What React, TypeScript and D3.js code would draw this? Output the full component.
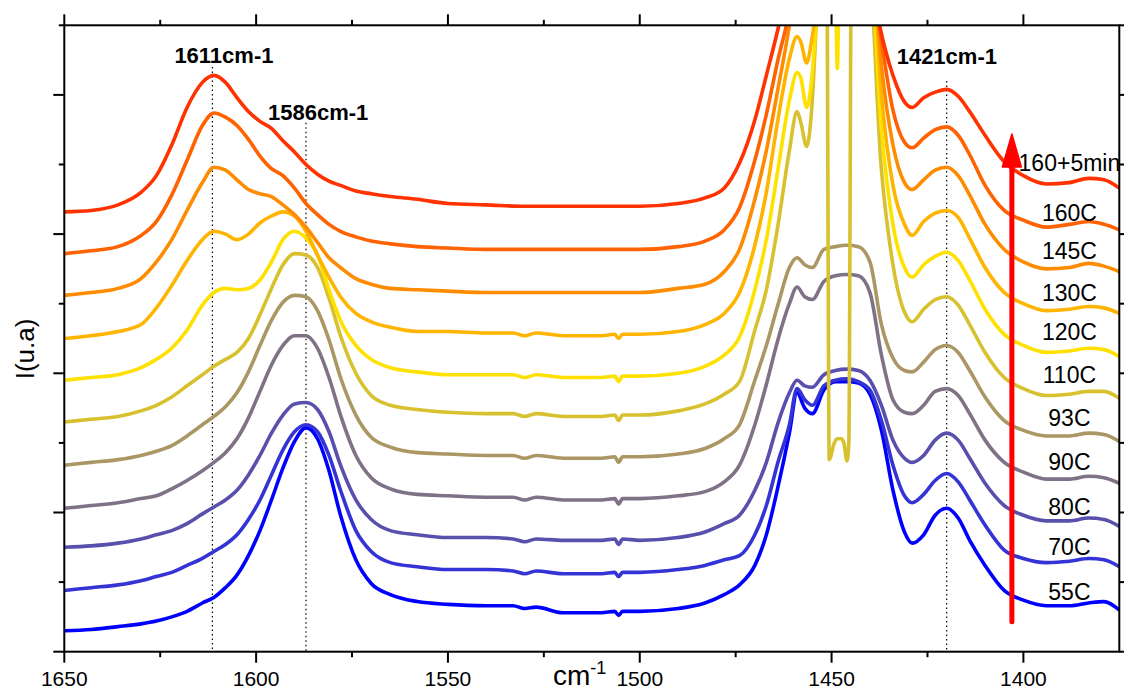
import React from 'react';
import * as d3 from 'd3';

type Pt = [number, number];

// ---- data (wavenumber cm-1, intensity u.a.) ----
const labels = ['55C', '70C', '80C', '90C', '93C', '110C', '120C', '130C', '145C', '160C', '160+5min'];
const colors = ['#0000ff', '#3434d6', '#5850ac', '#7f7286', '#aa9763', '#d8c12e', '#ffe100', '#ffb400', '#ff8c00', '#ff6200', '#ff3200'];
const labelDy = [-6, -6, -6, -9, -10, -11, -11, -8, -9, -3, -12];

const s55: Pt[] = [[1650,0.15],[1643,0.16],[1636,0.18],[1630,0.20],[1626,0.22],[1622,0.25],[1618,0.29],[1614,0.35],[1611,0.39],[1608,0.46],[1605,0.55],[1602,0.69],[1599,0.87],[1596,1.09],[1593,1.32],[1590,1.51],[1587,1.61],[1584,1.53],[1581,1.30],[1578,0.98],[1574,0.66],[1570,0.49],[1565,0.41],[1558,0.36],[1550,0.34],[1540,0.33],[1533,0.33],[1530,0.31],[1527,0.32],[1520,0.28],[1510,0.28],[1506.5,0.29],[1505.5,0.26],[1504.5,0.29],[1500,0.29],[1490,0.31],[1483,0.35],[1478,0.41],[1474,0.48],[1470,0.62],[1467,0.84],[1464,1.18],[1461,1.57],[1459,1.86],[1457,1.75],[1455,1.71],[1452,1.88],[1449,1.94],[1446,1.94],[1443,1.93],[1440,1.85],[1437,1.59],[1434,1.16],[1431,0.86],[1429,0.78],[1426,0.84],[1423,0.98],[1420,1.03],[1417,0.96],[1414,0.80],[1410,0.62],[1405,0.44],[1400,0.37],[1394,0.33],[1388,0.33],[1383,0.35],[1379,0.36],[1375,0.30]];
const s70: Pt[] = [[1650,0.44],[1643,0.46],[1636,0.48],[1630,0.51],[1626,0.54],[1622,0.57],[1618,0.62],[1614,0.67],[1611,0.72],[1608,0.77],[1605,0.84],[1602,0.95],[1599,1.09],[1596,1.27],[1593,1.45],[1590,1.58],[1587,1.63],[1584,1.58],[1581,1.41],[1578,1.16],[1574,0.87],[1570,0.72],[1565,0.64],[1558,0.61],[1550,0.59],[1540,0.59],[1533,0.58],[1530,0.56],[1527,0.58],[1520,0.56],[1510,0.56],[1506.5,0.57],[1505.5,0.54],[1504.5,0.57],[1500,0.57],[1490,0.59],[1483,0.62],[1478,0.66],[1474,0.69],[1470,0.84],[1467,1.05],[1464,1.36],[1461,1.63],[1459,1.89],[1457,1.81],[1455,1.77],[1452,1.91],[1449,1.95],[1446,1.96],[1443,1.94],[1440,1.88],[1437,1.66],[1434,1.34],[1431,1.12],[1429,1.07],[1426,1.13],[1423,1.23],[1420,1.28],[1417,1.22],[1414,1.09],[1410,0.91],[1405,0.73],[1400,0.67],[1394,0.64],[1388,0.65],[1383,0.67],[1379,0.66],[1375,0.61]];
const s80: Pt[] = [[1650,0.75],[1643,0.76],[1636,0.78],[1630,0.81],[1626,0.84],[1622,0.87],[1618,0.92],[1614,0.99],[1611,1.04],[1608,1.09],[1605,1.16],[1602,1.27],[1599,1.41],[1596,1.57],[1593,1.70],[1590,1.78],[1587,1.79],[1584,1.74],[1581,1.58],[1578,1.34],[1574,1.09],[1570,0.95],[1565,0.87],[1558,0.84],[1550,0.82],[1540,0.82],[1533,0.81],[1530,0.79],[1527,0.81],[1520,0.80],[1510,0.80],[1506.5,0.81],[1505.5,0.77],[1504.5,0.81],[1500,0.80],[1490,0.82],[1483,0.86],[1478,0.92],[1474,0.98],[1470,1.16],[1467,1.36],[1464,1.64],[1461,1.86],[1459,1.95],[1457,1.91],[1455,1.90],[1452,1.99],[1449,2.02],[1446,2.03],[1443,2.02],[1440,1.95],[1437,1.77],[1434,1.52],[1431,1.39],[1429,1.36],[1426,1.41],[1423,1.52],[1420,1.57],[1417,1.52],[1414,1.39],[1410,1.21],[1405,1.05],[1400,0.98],[1394,0.94],[1388,0.94],[1383,0.96],[1379,0.95],[1375,0.90]];
const s90: Pt[] = [[1650,1.03],[1643,1.05],[1636,1.07],[1630,1.10],[1626,1.12],[1622,1.17],[1618,1.23],[1614,1.30],[1611,1.36],[1608,1.43],[1605,1.53],[1602,1.68],[1599,1.87],[1596,2.06],[1593,2.20],[1590,2.27],[1587,2.27],[1584,2.18],[1581,1.97],[1578,1.70],[1574,1.41],[1570,1.25],[1565,1.17],[1558,1.13],[1550,1.12],[1540,1.11],[1533,1.11],[1530,1.09],[1527,1.11],[1520,1.09],[1510,1.09],[1506.5,1.10],[1505.5,1.06],[1504.5,1.10],[1500,1.10],[1490,1.12],[1483,1.15],[1478,1.22],[1474,1.34],[1470,1.63],[1467,1.92],[1464,2.24],[1461,2.50],[1459,2.62],[1457,2.55],[1455,2.53],[1452,2.66],[1449,2.70],[1446,2.71],[1443,2.70],[1440,2.58],[1437,2.13],[1434,1.81],[1431,1.72],[1429,1.71],[1426,1.77],[1423,1.87],[1420,1.89],[1417,1.84],[1414,1.71],[1410,1.52],[1405,1.36],[1400,1.29],[1394,1.24],[1388,1.24],[1383,1.26],[1379,1.25],[1375,1.21]];
const s93: Pt[] = [[1650,1.34],[1643,1.36],[1636,1.38],[1630,1.41],[1626,1.44],[1622,1.48],[1618,1.55],[1614,1.63],[1611,1.69],[1608,1.76],[1605,1.86],[1602,2.01],[1599,2.20],[1596,2.38],[1593,2.51],[1590,2.56],[1587,2.55],[1584,2.45],[1581,2.24],[1578,1.97],[1574,1.70],[1570,1.54],[1565,1.47],[1558,1.43],[1550,1.42],[1540,1.41],[1533,1.41],[1530,1.39],[1527,1.41],[1520,1.39],[1510,1.39],[1506.5,1.40],[1505.5,1.36],[1504.5,1.40],[1500,1.40],[1490,1.42],[1483,1.46],[1478,1.53],[1474,1.63],[1470,1.95],[1467,2.20],[1464,2.49],[1461,2.76],[1459,2.83],[1457,2.78],[1455,2.76],[1452,2.89],[1449,2.91],[1446,2.92],[1443,2.91],[1440,2.80],[1437,2.35],[1434,2.11],[1431,2.02],[1429,2.01],[1426,2.08],[1423,2.17],[1420,2.20],[1417,2.15],[1414,2.02],[1410,1.83],[1405,1.66],[1400,1.59],[1394,1.55],[1388,1.55],[1383,1.57],[1379,1.56],[1375,1.51]];
const s110: Pt[] = [[1650,1.65],[1643,1.67],[1636,1.69],[1630,1.73],[1626,1.77],[1622,1.83],[1618,1.91],[1614,1.99],[1611,2.05],[1608,2.10],[1605,2.15],[1602,2.25],[1599,2.42],[1596,2.61],[1593,2.78],[1590,2.86],[1587,2.85],[1584,2.76],[1581,2.54],[1578,2.27],[1574,2.00],[1570,1.84],[1565,1.77],[1558,1.74],[1550,1.72],[1540,1.71],[1533,1.71],[1530,1.69],[1527,1.71],[1520,1.69],[1510,1.69],[1506.5,1.70],[1505.5,1.66],[1504.5,1.70],[1500,1.70],[1490,1.73],[1483,1.78],[1478,1.85],[1474,1.94],[1470,2.31],[1467,2.60],[1464,3.06],[1461,3.60],[1459,3.88],[1458,3.80],[1456.5,3.63],[1455.2,3.89],[1454,4.5],[1452.8,5.2],[1451.3,5.2],[1450.6,1.38],[1449.3,1.50],[1448.5,1.53],[1447.5,1.53],[1446.8,1.50],[1446,1.37],[1445.5,1.5],[1444.8,5.2],[1441,5.2],[1437,3.46],[1434,2.78],[1431,2.44],[1429,2.37],[1426,2.46],[1423,2.53],[1420,2.55],[1417,2.49],[1414,2.35],[1410,2.15],[1405,1.97],[1400,1.89],[1394,1.84],[1388,1.85],[1383,1.87],[1379,1.87],[1375,1.82]];
const s120: Pt[] = [[1650,1.95],[1643,1.97],[1636,1.99],[1630,2.04],[1626,2.10],[1622,2.18],[1618,2.31],[1614,2.49],[1611,2.58],[1608,2.61],[1605,2.60],[1602,2.61],[1599,2.67],[1596,2.80],[1593,2.96],[1590,3.02],[1587,2.97],[1584,2.85],[1581,2.60],[1578,2.38],[1574,2.20],[1570,2.10],[1565,2.04],[1558,2.01],[1550,1.99],[1540,1.99],[1533,1.99],[1530,1.97],[1527,1.99],[1520,1.97],[1510,1.97],[1506.5,1.98],[1505.5,1.94],[1504.5,1.98],[1500,1.98],[1490,2.00],[1483,2.05],[1478,2.13],[1474,2.26],[1470,2.60],[1467,2.96],[1464,3.46],[1461,3.96],[1459,4.16],[1458,4.12],[1456.5,3.91],[1455.2,4.11],[1454,4.54],[1452.8,5.2],[1449.2,5.2],[1448.5,4.19],[1447.8,5.2],[1440.5,5.2],[1437,3.75],[1434,3.07],[1431,2.76],[1429,2.69],[1426,2.78],[1423,2.84],[1420,2.87],[1417,2.81],[1414,2.67],[1410,2.46],[1405,2.28],[1400,2.20],[1394,2.15],[1388,2.16],[1383,2.18],[1379,2.17],[1375,2.12]];
const s130: Pt[] = [[1650,2.25],[1643,2.27],[1636,2.30],[1630,2.35],[1626,2.47],[1622,2.63],[1618,2.81],[1614,2.96],[1611,3.02],[1608,3.00],[1605,2.96],[1602,3.00],[1599,3.08],[1596,3.13],[1593,3.16],[1590,3.13],[1587,3.02],[1584,2.85],[1581,2.69],[1578,2.55],[1574,2.43],[1570,2.37],[1565,2.33],[1558,2.30],[1550,2.30],[1540,2.29],[1533,2.29],[1530,2.27],[1527,2.29],[1520,2.27],[1510,2.27],[1506.5,2.28],[1505.5,2.25],[1504.5,2.28],[1500,2.28],[1490,2.30],[1483,2.35],[1478,2.43],[1474,2.58],[1470,2.92],[1467,3.30],[1464,3.82],[1461,4.26],[1459,4.42],[1458,4.38],[1456.5,4.23],[1455.2,4.39],[1454,4.65],[1452.8,5.2],[1440,5.2],[1437,4.00],[1434,3.35],[1431,3.07],[1429,2.99],[1426,3.09],[1423,3.15],[1420,3.17],[1417,3.12],[1414,2.97],[1410,2.76],[1405,2.58],[1400,2.50],[1394,2.45],[1388,2.46],[1383,2.48],[1379,2.47],[1375,2.43]];
const s145: Pt[] = [[1650,2.56],[1643,2.58],[1636,2.61],[1630,2.68],[1626,2.80],[1622,2.96],[1618,3.17],[1614,3.37],[1611,3.48],[1608,3.46],[1605,3.39],[1602,3.32],[1599,3.29],[1596,3.27],[1593,3.21],[1590,3.14],[1587,3.05],[1584,2.94],[1581,2.83],[1578,2.76],[1574,2.68],[1570,2.64],[1565,2.61],[1558,2.60],[1550,2.59],[1540,2.58],[1530,2.58],[1520,2.58],[1510,2.58],[1500,2.58],[1490,2.61],[1483,2.64],[1478,2.73],[1474,2.89],[1470,3.25],[1467,3.60],[1464,4.04],[1461,4.50],[1459,4.9],[1457,5.2],[1440,5.2],[1437,4.21],[1434,3.64],[1431,3.37],[1429,3.32],[1426,3.39],[1423,3.46],[1420,3.48],[1417,3.42],[1414,3.28],[1410,3.07],[1405,2.89],[1400,2.80],[1394,2.75],[1388,2.76],[1383,2.79],[1379,2.77],[1375,2.73]];
const s160: Pt[] = [[1650,2.86],[1643,2.88],[1636,2.91],[1630,2.99],[1626,3.09],[1622,3.28],[1618,3.53],[1614,3.78],[1611,3.87],[1608,3.84],[1605,3.78],[1602,3.68],[1599,3.56],[1596,3.47],[1593,3.42],[1590,3.33],[1587,3.22],[1584,3.14],[1581,3.07],[1578,3.02],[1574,2.98],[1570,2.95],[1565,2.93],[1558,2.91],[1550,2.90],[1540,2.89],[1530,2.89],[1520,2.89],[1510,2.89],[1500,2.89],[1490,2.91],[1483,2.95],[1478,3.03],[1474,3.19],[1470,3.53],[1467,3.86],[1464,4.25],[1461,4.61],[1459,5.0],[1457,5.2],[1441,5.2],[1437,4.39],[1434,3.89],[1431,3.66],[1429,3.62],[1426,3.69],[1423,3.75],[1420,3.77],[1417,3.71],[1414,3.57],[1410,3.35],[1405,3.17],[1400,3.10],[1394,3.05],[1388,3.07],[1383,3.09],[1379,3.07],[1375,3.03]];
const s165: Pt[] = [[1650,3.16],[1643,3.17],[1636,3.21],[1630,3.30],[1626,3.42],[1622,3.64],[1618,3.91],[1614,4.09],[1611,4.14],[1608,4.09],[1605,3.98],[1602,3.88],[1599,3.81],[1596,3.76],[1593,3.67],[1590,3.59],[1587,3.50],[1584,3.43],[1581,3.38],[1578,3.35],[1574,3.31],[1570,3.29],[1565,3.27],[1558,3.25],[1550,3.22],[1540,3.21],[1530,3.20],[1520,3.20],[1510,3.20],[1500,3.20],[1490,3.22],[1483,3.26],[1478,3.33],[1474,3.51],[1470,3.82],[1467,4.14],[1464,4.47],[1461,4.85],[1459,5.2],[1442,5.2],[1437.5,4.50],[1434,4.14],[1431,3.95],[1429,3.91],[1426,3.98],[1423,4.02],[1420,4.04],[1417,3.99],[1414,3.88],[1410,3.71],[1405,3.52],[1400,3.42],[1394,3.36],[1388,3.37],[1383,3.40],[1379,3.39],[1375,3.33]];

const series: Pt[][] = [s55, s70, s80, s90, s93, s110, s120, s130, s145, s160, s165];

const xMajor = [1650, 1600, 1550, 1500, 1450, 1400];
const xMinor = [1625, 1575, 1525, 1475, 1425];
const yMajor = [0, 1, 2, 3, 4];
const yMinor = [0.5, 1.5, 2.5, 3.5, 4.5];

const peakMarks = [
  { w: 1611.4, label: '1611cm-1', top: 4.2, dx: -38, dy: -4 },
  { w: 1587, label: '1586cm-1', top: 3.8, dx: -38, dy: -3 },
  { w: 1420, label: '1421cm-1', top: 4.1, dx: -50, dy: -17 },
];

const W = 1124, H = 691;
const L = 64.3, R = 1119.3, T = 25.3, B = 651.7;
const FONT = '"Liberation Sans", Arial, Helvetica, sans-serif';

export default function App() {
  const x = d3.scaleLinear().domain([1650, 1375]).range([L, R]);
  const y = d3.scaleLinear().domain([0, 4.5]).range([B, T]);
  const line = d3.line<Pt>().x(d => x(d[0])).y(d => y(d[1])).curve(d3.curveMonotoneX);
  const valAt = (s: Pt[], w: number) => {
    const p = s.find(d => d[0] === w);
    return p ? p[1] : s[s.length - 1][1];
  };
  const arrowX = x(1403);
  return (
    <svg width={W} height={H} style={{ position: 'absolute', left: 0, top: 0, background: '#fff' }} fontFamily={FONT}>
      <defs>
        <clipPath id="plot"><rect x={L} y={T} width={R - L} height={B - T} /></clipPath>
      </defs>
      {peakMarks.map((p, i) => (
        <line key={'g' + i} x1={x(p.w)} x2={x(p.w)} y1={y(p.top)} y2={B} stroke="#000" strokeWidth={1.2} strokeDasharray="1.5,3" />
      ))}
      <g clipPath="url(#plot)">
        {series.map((s, i) => (
          <path key={i} d={line(s) || ''} fill="none" stroke={colors[i]} strokeWidth={3.6} strokeLinejoin="round" strokeLinecap="round" />
        ))}
      </g>
      <rect x={L} y={T} width={R - L} height={B - T} fill="none" stroke="#000" strokeWidth={2} />
      {xMajor.map(v => (
        <g key={'xm' + v}>
          <line x1={x(v)} x2={x(v)} y1={B} y2={B + 11} stroke="#000" strokeWidth={2} />
          <line x1={x(v)} x2={x(v)} y1={T} y2={T - 11} stroke="#000" strokeWidth={2} />
          <text x={x(v)} y={686} textAnchor="middle" fontSize={21} fill="#000">{v}</text>
        </g>
      ))}
      {xMinor.map(v => (
        <g key={'xn' + v}>
          <line x1={x(v)} x2={x(v)} y1={B} y2={B + 5.5} stroke="#000" strokeWidth={2} />
          <line x1={x(v)} x2={x(v)} y1={T} y2={T - 5.5} stroke="#000" strokeWidth={2} />
        </g>
      ))}
      {yMajor.map(v => (
        <g key={'ym' + v}>
          <line x1={L} x2={L - 11} y1={y(v)} y2={y(v)} stroke="#000" strokeWidth={2} />
          <line x1={R} x2={R + 11} y1={y(v)} y2={y(v)} stroke="#000" strokeWidth={2} />
        </g>
      ))}
      {yMinor.map(v => (
        <g key={'yn' + v}>
          <line x1={L} x2={L - 5.5} y1={y(v)} y2={y(v)} stroke="#000" strokeWidth={2} />
          <line x1={R} x2={R + 5.5} y1={y(v)} y2={y(v)} stroke="#000" strokeWidth={2} />
        </g>
      ))}
      <text x={553} y={685} fontSize={28} fill="#000">cm<tspan dy={-11} fontSize={18}>-1</tspan></text>
      <text transform={`translate(34,349) rotate(-90)`} textAnchor="middle" fontSize={26} fill="#000">I(u.a)</text>
      {peakMarks.map((p, i) => (
        <text key={'pl' + i} x={x(p.w) + p.dx} y={y(p.top) + p.dy} fontSize={22} fontWeight="bold" fill="#000">{p.label}</text>
      ))}
      <line x1={arrowX} x2={arrowX} y1={621.7} y2={160} stroke="#ff0000" strokeWidth={5} strokeLinecap="round" />
      <polygon points={`${arrowX},134 ${arrowX - 9.5},167 ${arrowX + 9.5},167`} fill="#ff0000" stroke="#ff0000" strokeWidth={1.5} strokeLinejoin="round" />
      {labels.map((t, i) => (
        <text key={'lb' + i} x={x(1388)} y={y(valAt(series[i], 1388)) + labelDy[i]} textAnchor="middle" fontSize={23} fill="#000">{t}</text>
      ))}
    </svg>
  );
}
